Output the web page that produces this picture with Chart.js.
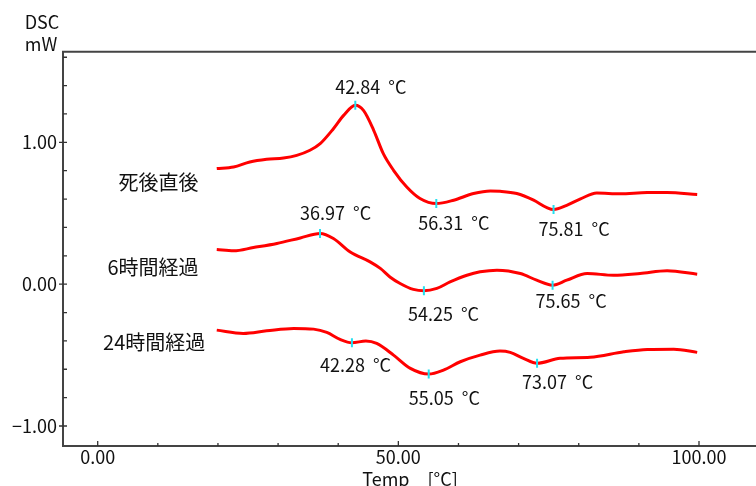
<!DOCTYPE html>
<html lang="ja">
<head>
<meta charset="UTF-8">
<title>DSC</title>
<script src="https://cdn.jsdelivr.net/npm/chart.js"></script>
<style>
  html, body { margin: 0; padding: 0; background: #fff; }
  #wrap { width: 756px; height: 486px; }
</style>
</head>
<body>
<div id="wrap"><canvas id="dscChart" width="756" height="486"></canvas></div>
<script>
// 図から読み取った値 (温度 °C / DSC mW)
const seriesNames = ['死後直後', '6時間経過', '24時間経過'];

const tempA = [19.8, 22.6, 25.3, 28.1, 30.9, 33.1, 35.3, 37.0, 39.2, 40.9, 42.84, 44.2, 45.9, 47.5, 49.2, 51.4, 53.6, 56.31, 59.2, 62.5, 65.3, 66.9, 69.7, 72.5, 74.7, 75.81, 78.0, 80.3, 83.0, 86.9, 91.4, 94.7, 99.7];
const dscA = [0.815, 0.826, 0.861, 0.880, 0.889, 0.908, 0.944, 0.991, 1.096, 1.190, 1.261, 1.225, 1.085, 0.920, 0.803, 0.685, 0.604, 0.568, 0.592, 0.639, 0.657, 0.655, 0.639, 0.592, 0.540, 0.526, 0.556, 0.601, 0.643, 0.637, 0.646, 0.646, 0.632];

const tempB = [19.8, 22.6, 25.9, 29.8, 33.7, 36.97, 39.2, 42.0, 45.3, 47.0, 48.6, 50.3, 52.5, 54.25, 56.4, 58.6, 61.4, 63.6, 66.4, 70.3, 73.0, 75.65, 78.0, 81.4, 85.8, 90.2, 94.7, 99.7];
const dscB = [0.244, 0.235, 0.258, 0.287, 0.326, 0.357, 0.322, 0.227, 0.157, 0.111, 0.051, 0.005, -0.037, -0.047, -0.030, 0.016, 0.063, 0.087, 0.099, 0.075, 0.028, -0.007, 0.028, 0.075, 0.063, 0.075, 0.094, 0.070];

const tempC = [19.8, 24.2, 28.1, 32.6, 35.9, 38.1, 40.3, 42.28, 44.6, 46.4, 49.2, 52.0, 55.05, 57.5, 60.3, 63.6, 66.9, 68.6, 70.8, 73.07, 76.9, 81.9, 87.5, 91.4, 95.8, 99.7];
const dscC = [-0.324, -0.347, -0.329, -0.312, -0.317, -0.340, -0.389, -0.413, -0.401, -0.418, -0.500, -0.594, -0.634, -0.606, -0.547, -0.500, -0.472, -0.481, -0.523, -0.558, -0.523, -0.516, -0.477, -0.460, -0.458, -0.481];

// ピーク位置
const peakTemps = [42.84, 56.31, 75.81, 36.97, 54.25, 75.65, 42.28, 55.05, 73.07];
const peakDsc = [1.261, 0.568, 0.526, 0.357, -0.047, -0.007, -0.413, -0.634, -0.558];

const xTicks = [0, 50, 100];
const yTicks = [-1, 0, 1];

// ラベルの配置 (px, ピークからのずれ)
const peakLabelDx = [-20, -18, -15, -20, -16, -17, -32, -20, -15];
const peakLabelDy = [-18, 20, 20, -20, 23, 16, 22, 24, 19];
const seriesLabelX = [10.1, 9.2, 9.4];
const seriesLabelY = [0.718, 0.12, -0.408];

const FONT = '"Noto Sans CJK JP", "Liberation Sans", sans-serif';
const TEXT = '#111';

const toPts = (xs, ys) => xs.map((x, i) => ({ x: x, y: ys[i] }));

const curve = (name, xs, ys) => ({
    label: name,
    data: toPts(xs, ys),
    borderColor: '#ff0000',
    borderWidth: 3,
    pointRadius: 0,
    cubicInterpolationMode: 'monotone',
    fill: false
});

const framePlugin = {
    id: 'frame',
    afterDraw(chart) {
        const { ctx, chartArea: a, scales: { x, y } } = chart;
        ctx.save();

        // 枠線
        ctx.strokeStyle = '#444';
        ctx.lineWidth = 2;
        ctx.beginPath();
        ctx.moveTo(a.right, a.top);
        ctx.lineTo(a.left, a.top);
        ctx.lineTo(a.left, a.bottom);
        ctx.lineTo(a.right, a.bottom);
        ctx.stroke();

        // 目盛り (内向き)
        ctx.lineWidth = 1.3;
        ctx.strokeStyle = '#333';
        ctx.beginPath();
        for (let i = 0; i <= 11; i++) {
            const px = x.getPixelForValue(i * 10);
            if (px < a.left || px > a.right) continue;
            ctx.moveTo(px, a.bottom);
            ctx.lineTo(px, a.bottom - (i % 5 === 0 ? 5 : 3));
        }
        for (let i = -5; i <= 8; i++) {
            const py = y.getPixelForValue(i * 0.2);
            if (py < a.top || py > a.bottom) continue;
            const major = i % 5 === 0;
            ctx.moveTo(a.left - (major ? 4 : 0), py);
            ctx.lineTo(a.left + 4, py);
        }
        ctx.stroke();

        ctx.fillStyle = TEXT;
        ctx.textBaseline = 'middle';

        // ピーク温度
        ctx.font = '18px ' + FONT;
        ctx.textAlign = 'left';
        peakTemps.forEach((t, i) => {
            const px = x.getPixelForValue(t) + peakLabelDx[i];
            const py = y.getPixelForValue(peakDsc[i]) + peakLabelDy[i];
            ctx.fillText(t.toFixed(2) + '  °C', px, py);
        });

        // 系列名
        ctx.font = '20px ' + FONT;
        ctx.textAlign = 'center';
        seriesNames.forEach((n, i) => {
            ctx.fillText(n, x.getPixelForValue(seriesLabelX[i]), y.getPixelForValue(seriesLabelY[i]));
        });

        // 軸タイトル
        ctx.font = '18px ' + FONT;
        ctx.fillText('DSC', 42, 22);
        ctx.fillText('mW', 41, 44);
        ctx.fillText('Temp　[°C]', 410, 479);

        ctx.restore();
    }
};

const noPad = s => { s.paddingLeft = 0; s.paddingRight = 0; s.paddingTop = 0; s.paddingBottom = 0; };

const ctx = document.getElementById('dscChart').getContext('2d');
new Chart(ctx, {
    type: 'line',
    data: {
        datasets: [
            curve(seriesNames[0], tempA, dscA),
            curve(seriesNames[1], tempB, dscB),
            curve(seriesNames[2], tempC, dscC),
            {
                label: 'peaks',
                data: toPts(peakTemps, peakDsc),
                order: -1,
                showLine: false,
                pointStyle: 'line',
                rotation: 90,
                pointRadius: 4.5,
                borderColor: '#22e0f0',
                pointBorderColor: '#22e0f0',
                borderWidth: 2,
                pointBorderWidth: 2
            }
        ]
    },
    options: {
        responsive: false,
        animation: false,
        layout: { autoPadding: false, padding: { top: 51.7, left: 0, right: 0, bottom: 0 } },
        plugins: {
            legend: { display: false },
            tooltip: { enabled: false }
        },
        scales: {
            x: {
                type: 'linear',
                min: -5.77,
                max: 109.48,
                grid: { display: false, drawTicks: false },
                border: { display: false },
                afterBuildTicks: s => { s.ticks = xTicks.map(v => ({ value: v })); },
                afterFit: s => { s.height = 40; noPad(s); },
                ticks: {
                    callback: v => v.toFixed(2),
                    font: { family: FONT, size: 18 },
                    color: TEXT,
                    padding: 0,
                    maxRotation: 0
                }
            },
            y: {
                min: -1.141,
                max: 1.639,
                grid: { display: false, drawTicks: false },
                border: { display: false },
                afterBuildTicks: s => { s.ticks = yTicks.map(v => ({ value: v })); },
                afterFit: s => { s.width = 63; noPad(s); },
                ticks: {
                    callback: v => (v < 0 ? '\u2212' + Math.abs(v).toFixed(2) : v.toFixed(2)),
                    font: { family: FONT, size: 18 },
                    color: TEXT,
                    padding: 6
                }
            }
        }
    },
    plugins: [framePlugin]
});
</script>
</body>
</html>
